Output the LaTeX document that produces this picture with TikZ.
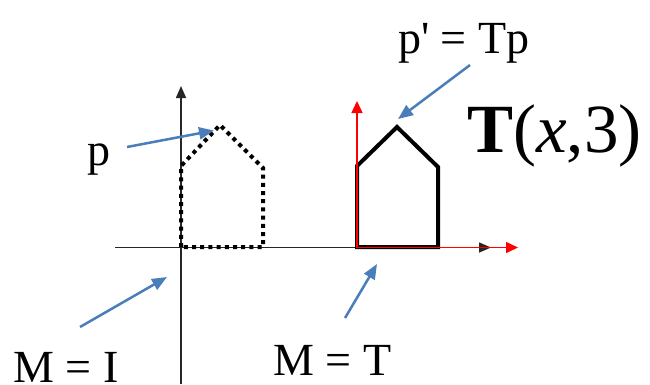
\documentclass[tikz,border=0pt]{standalone}
\usepackage{fontspec}
\setmainfont{Liberation Serif}[Ligatures=TeXOff]
\usetikzlibrary{arrows.meta}
\definecolor{bluearr}{RGB}{74,126,187}
\definecolor{axred}{RGB}{255,0,0}
\tikzset{
  lbl/.style={anchor=base west, inner sep=0pt, font=\fontsize{46}{50}\selectfont},
  callout/.style={draw=bluearr, line width=2.5pt, -{Triangle[length=15pt,width=12pt]}},
  axis/.style={draw=black!85, line width=1.5pt, -{Triangle[length=12pt,width=10pt]}},
  redaxis/.style={draw=axred, line width=1.5pt, -{Triangle[length=12pt,width=11pt]}},
  house/.style={line width=4pt, line join=miter},
}
\begin{document}
\begin{tikzpicture}[x=1pt,y=-1pt]
\path[use as bounding box] (0,0) rectangle (650,384);
% coordinates
\coordinate (o1) at (181,247.5);
\coordinate (yl) at (181,86);
\coordinate (yb) at (181,384);
\coordinate (xl) at (115,247.5);
\coordinate (xr) at (491,247.5);
\coordinate (o2) at (357,247.5);
\coordinate (ry) at (357,101);
\coordinate (rx) at (518,247.5);
% axes
\draw[axis] (yb) -- (yl);
\draw[axis] (xl) -- (xr);
% dotted house
\draw[house, dash pattern=on 4pt off 4.2pt]
  (181,247) -- (181,166) -- (220,125) -- (263,168) -- (263,247) -- cycle;
% solid house
\draw[house] (357,247) -- (357,166) -- (397,127) -- (438,167) -- (438,247) -- cycle;
% red axes
\draw[redaxis] (o2) -- (ry);
\draw[redaxis] (o2) -- (rx);
% labels
\node[lbl] (p) at (87,165) {p};
\node[lbl] (pp) at (398,53) {p' = Tp};
\node[lbl] (mi) at (13,382) {M = I};
\node[lbl] (mt) at (273,375) {M = T};
\node[anchor=base west, inner sep=0pt, font=\fontsize{69}{72}\selectfont] (tx) at (467,152)
  {\textbf{T}(\textit{x},3)};
% callouts
\coordinate (pa) at (127,147);
\coordinate (pt) at (214,130.5);
\coordinate (ppa) at (470,65);
\coordinate (ppt) at (398,119);
\coordinate (mia) at (80,327);
\coordinate (mit) at (167,277);
\coordinate (mta) at (345,318);
\coordinate (mtt) at (377,264);
\draw[callout] (pa) -- (pt);
\draw[callout] (ppa) -- (ppt);
\draw[callout] (mia) -- (mit);
\draw[callout] (mta) -- (mtt);
\end{tikzpicture}
\end{document}
